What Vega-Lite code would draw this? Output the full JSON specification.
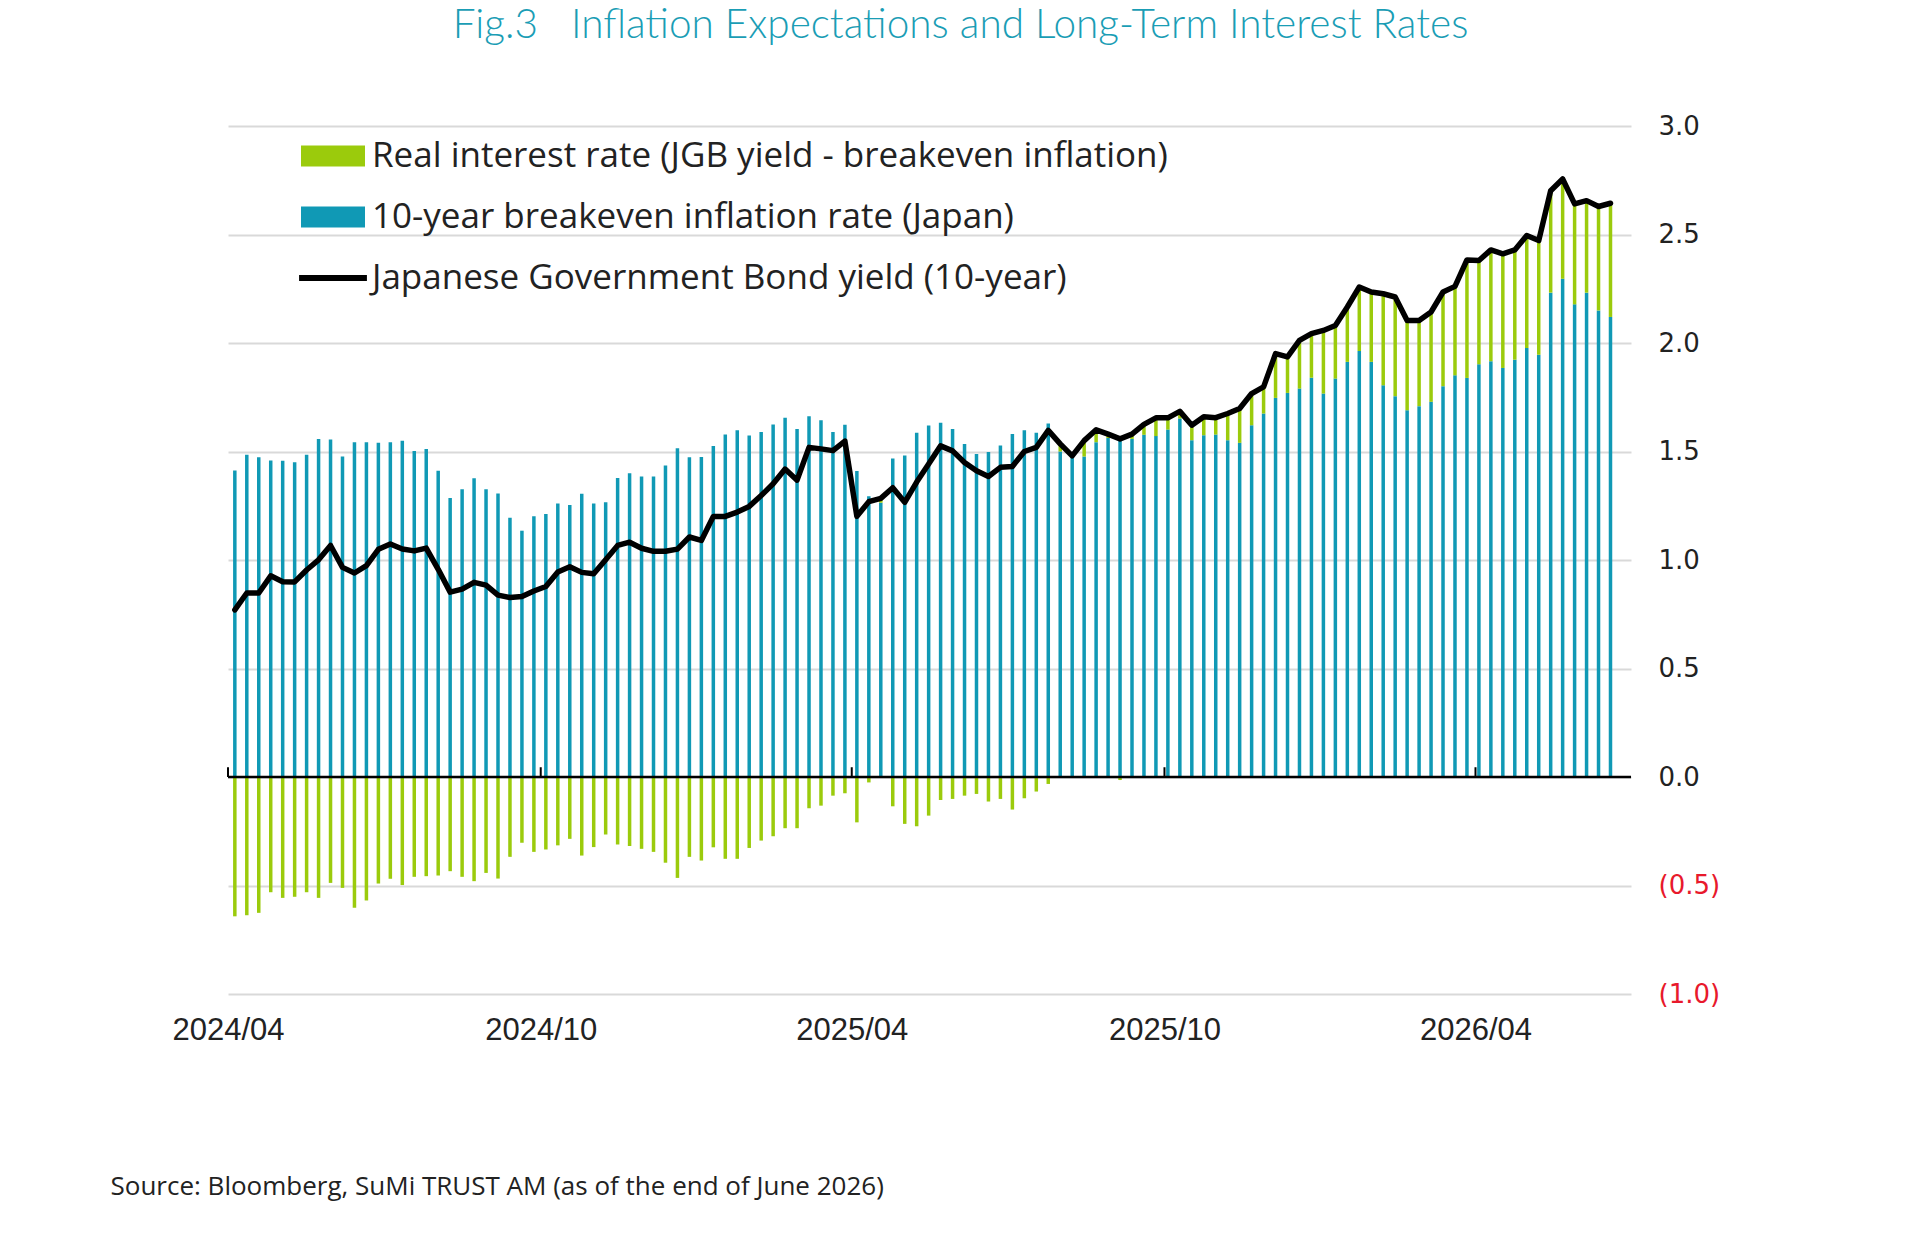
{
  "$schema": "https://vega.github.io/schema/vega-lite/v6.json",
  "width": 1403,
  "height": 868,
  "autosize": {"type": "none"},
  "padding": {"left": 228, "top": 126, "right": 289, "bottom": 249},
  "background": "white",
  "config": {"view": {"stroke": null}, "font": "Open Sans"},
  "title": {
    "text": "Fig.3\u00a0\u00a0\u00a0Inflation Expectations and Long-Term Interest Rates",
    "color": "#1a9db5",
    "font": "Lato",
    "fontSize": 40.5,
    "fontWeight": 300,
    "anchor": "middle",
    "frame": "group",
    "dx": 31,
    "baseline": "bottom",
    "offset": 26
  },
  "datasets": {
    "weekly": [
      {"date": "2024-04-05", "bei": 1.412, "real": -0.642, "jgb": 0.770},
      {"date": "2024-04-12", "bei": 1.485, "real": -0.637, "jgb": 0.848},
      {"date": "2024-04-19", "bei": 1.474, "real": -0.626, "jgb": 0.848},
      {"date": "2024-04-26", "bei": 1.458, "real": -0.531, "jgb": 0.927},
      {"date": "2024-05-03", "bei": 1.457, "real": -0.557, "jgb": 0.900},
      {"date": "2024-05-10", "bei": 1.451, "real": -0.552, "jgb": 0.899},
      {"date": "2024-05-17", "bei": 1.485, "real": -0.531, "jgb": 0.954},
      {"date": "2024-05-24", "bei": 1.558, "real": -0.557, "jgb": 1.001},
      {"date": "2024-05-31", "bei": 1.555, "real": -0.488, "jgb": 1.067},
      {"date": "2024-06-07", "bei": 1.477, "real": -0.511, "jgb": 0.966},
      {"date": "2024-06-14", "bei": 1.543, "real": -0.603, "jgb": 0.940},
      {"date": "2024-06-21", "bei": 1.543, "real": -0.569, "jgb": 0.974},
      {"date": "2024-06-28", "bei": 1.540, "real": -0.491, "jgb": 1.049},
      {"date": "2024-07-05", "bei": 1.543, "real": -0.469, "jgb": 1.074},
      {"date": "2024-07-12", "bei": 1.549, "real": -0.498, "jgb": 1.051},
      {"date": "2024-07-19", "bei": 1.502, "real": -0.460, "jgb": 1.042},
      {"date": "2024-07-26", "bei": 1.512, "real": -0.457, "jgb": 1.055},
      {"date": "2024-08-02", "bei": 1.411, "real": -0.454, "jgb": 0.957},
      {"date": "2024-08-09", "bei": 1.286, "real": -0.434, "jgb": 0.852},
      {"date": "2024-08-16", "bei": 1.326, "real": -0.460, "jgb": 0.866},
      {"date": "2024-08-23", "bei": 1.377, "real": -0.480, "jgb": 0.897},
      {"date": "2024-08-30", "bei": 1.326, "real": -0.442, "jgb": 0.884},
      {"date": "2024-09-06", "bei": 1.306, "real": -0.468, "jgb": 0.838},
      {"date": "2024-09-13", "bei": 1.195, "real": -0.368, "jgb": 0.827},
      {"date": "2024-09-20", "bei": 1.135, "real": -0.303, "jgb": 0.832},
      {"date": "2024-09-27", "bei": 1.202, "real": -0.345, "jgb": 0.857},
      {"date": "2024-10-04", "bei": 1.212, "real": -0.334, "jgb": 0.878},
      {"date": "2024-10-11", "bei": 1.260, "real": -0.315, "jgb": 0.945},
      {"date": "2024-10-18", "bei": 1.254, "real": -0.285, "jgb": 0.969},
      {"date": "2024-10-25", "bei": 1.305, "real": -0.362, "jgb": 0.943},
      {"date": "2024-11-01", "bei": 1.260, "real": -0.323, "jgb": 0.937},
      {"date": "2024-11-08", "bei": 1.266, "real": -0.265, "jgb": 1.001},
      {"date": "2024-11-15", "bei": 1.378, "real": -0.311, "jgb": 1.067},
      {"date": "2024-11-22", "bei": 1.400, "real": -0.318, "jgb": 1.082},
      {"date": "2024-11-29", "bei": 1.385, "real": -0.331, "jgb": 1.054},
      {"date": "2024-12-06", "bei": 1.385, "real": -0.345, "jgb": 1.040},
      {"date": "2024-12-13", "bei": 1.435, "real": -0.395, "jgb": 1.040},
      {"date": "2024-12-20", "bei": 1.515, "real": -0.465, "jgb": 1.050},
      {"date": "2024-12-27", "bei": 1.474, "real": -0.368, "jgb": 1.106},
      {"date": "2025-01-03", "bei": 1.475, "real": -0.385, "jgb": 1.090},
      {"date": "2025-01-10", "bei": 1.525, "real": -0.324, "jgb": 1.201},
      {"date": "2025-01-17", "bei": 1.578, "real": -0.377, "jgb": 1.201},
      {"date": "2025-01-24", "bei": 1.598, "real": -0.377, "jgb": 1.221},
      {"date": "2025-01-31", "bei": 1.574, "real": -0.327, "jgb": 1.247},
      {"date": "2025-02-07", "bei": 1.590, "real": -0.293, "jgb": 1.297},
      {"date": "2025-02-14", "bei": 1.624, "real": -0.273, "jgb": 1.351},
      {"date": "2025-02-21", "bei": 1.655, "real": -0.236, "jgb": 1.419},
      {"date": "2025-02-28", "bei": 1.604, "real": -0.236, "jgb": 1.368},
      {"date": "2025-03-07", "bei": 1.663, "real": -0.144, "jgb": 1.519},
      {"date": "2025-03-14", "bei": 1.644, "real": -0.132, "jgb": 1.512},
      {"date": "2025-03-21", "bei": 1.590, "real": -0.086, "jgb": 1.504},
      {"date": "2025-03-28", "bei": 1.623, "real": -0.075, "jgb": 1.548},
      {"date": "2025-04-04", "bei": 1.410, "real": -0.209, "jgb": 1.201},
      {"date": "2025-04-11", "bei": 1.294, "real": -0.025, "jgb": 1.269},
      {"date": "2025-04-18", "bei": 1.264, "real": 0.020, "jgb": 1.284},
      {"date": "2025-04-25", "bei": 1.468, "real": -0.135, "jgb": 1.333},
      {"date": "2025-05-02", "bei": 1.482, "real": -0.216, "jgb": 1.266},
      {"date": "2025-05-09", "bei": 1.586, "real": -0.227, "jgb": 1.359},
      {"date": "2025-05-16", "bei": 1.620, "real": -0.178, "jgb": 1.442},
      {"date": "2025-05-23", "bei": 1.632, "real": -0.106, "jgb": 1.526},
      {"date": "2025-05-30", "bei": 1.604, "real": -0.101, "jgb": 1.503},
      {"date": "2025-06-06", "bei": 1.535, "real": -0.086, "jgb": 1.449},
      {"date": "2025-06-13", "bei": 1.489, "real": -0.078, "jgb": 1.411},
      {"date": "2025-06-20", "bei": 1.498, "real": -0.113, "jgb": 1.385},
      {"date": "2025-06-27", "bei": 1.528, "real": -0.101, "jgb": 1.427},
      {"date": "2025-07-04", "bei": 1.581, "real": -0.150, "jgb": 1.431},
      {"date": "2025-07-11", "bei": 1.598, "real": -0.098, "jgb": 1.500},
      {"date": "2025-07-18", "bei": 1.586, "real": -0.067, "jgb": 1.519},
      {"date": "2025-07-25", "bei": 1.629, "real": -0.032, "jgb": 1.597},
      {"date": "2025-08-01", "bei": 1.500, "real": 0.035, "jgb": 1.535},
      {"date": "2025-08-08", "bei": 1.470, "real": 0.010, "jgb": 1.480},
      {"date": "2025-08-15", "bei": 1.477, "real": 0.073, "jgb": 1.550},
      {"date": "2025-08-22", "bei": 1.543, "real": 0.057, "jgb": 1.600},
      {"date": "2025-08-29", "bei": 1.562, "real": 0.018, "jgb": 1.580},
      {"date": "2025-09-05", "bei": 1.572, "real": -0.014, "jgb": 1.558},
      {"date": "2025-09-12", "bei": 1.558, "real": 0.022, "jgb": 1.580},
      {"date": "2025-09-19", "bei": 1.577, "real": 0.048, "jgb": 1.625},
      {"date": "2025-09-26", "bei": 1.571, "real": 0.084, "jgb": 1.655},
      {"date": "2025-10-03", "bei": 1.601, "real": 0.054, "jgb": 1.655},
      {"date": "2025-10-10", "bei": 1.652, "real": 0.033, "jgb": 1.685},
      {"date": "2025-10-17", "bei": 1.552, "real": 0.069, "jgb": 1.621},
      {"date": "2025-10-24", "bei": 1.575, "real": 0.085, "jgb": 1.660},
      {"date": "2025-10-31", "bei": 1.578, "real": 0.078, "jgb": 1.656},
      {"date": "2025-11-07", "bei": 1.552, "real": 0.123, "jgb": 1.675},
      {"date": "2025-11-14", "bei": 1.540, "real": 0.158, "jgb": 1.698},
      {"date": "2025-11-21", "bei": 1.621, "real": 0.146, "jgb": 1.767},
      {"date": "2025-11-28", "bei": 1.675, "real": 0.123, "jgb": 1.798},
      {"date": "2025-12-05", "bei": 1.747, "real": 0.204, "jgb": 1.951},
      {"date": "2025-12-12", "bei": 1.770, "real": 0.166, "jgb": 1.936},
      {"date": "2025-12-19", "bei": 1.790, "real": 0.222, "jgb": 2.012},
      {"date": "2025-12-26", "bei": 1.840, "real": 0.203, "jgb": 2.043},
      {"date": "2026-01-02", "bei": 1.767, "real": 0.291, "jgb": 2.058},
      {"date": "2026-01-09", "bei": 1.836, "real": 0.245, "jgb": 2.081},
      {"date": "2026-01-16", "bei": 1.913, "real": 0.253, "jgb": 2.166},
      {"date": "2026-01-23", "bei": 1.963, "real": 0.295, "jgb": 2.258},
      {"date": "2026-01-30", "bei": 1.913, "real": 0.322, "jgb": 2.235},
      {"date": "2026-02-06", "bei": 1.805, "real": 0.422, "jgb": 2.227},
      {"date": "2026-02-13", "bei": 1.755, "real": 0.457, "jgb": 2.212},
      {"date": "2026-02-20", "bei": 1.690, "real": 0.414, "jgb": 2.104},
      {"date": "2026-02-27", "bei": 1.709, "real": 0.395, "jgb": 2.104},
      {"date": "2026-03-06", "bei": 1.729, "real": 0.414, "jgb": 2.143},
      {"date": "2026-03-13", "bei": 1.801, "real": 0.434, "jgb": 2.235},
      {"date": "2026-03-20", "bei": 1.851, "real": 0.410, "jgb": 2.261},
      {"date": "2026-03-27", "bei": 1.839, "real": 0.544, "jgb": 2.383},
      {"date": "2026-04-03", "bei": 1.902, "real": 0.478, "jgb": 2.380},
      {"date": "2026-04-10", "bei": 1.916, "real": 0.513, "jgb": 2.429},
      {"date": "2026-04-17", "bei": 1.885, "real": 0.526, "jgb": 2.411},
      {"date": "2026-04-24", "bei": 1.923, "real": 0.506, "jgb": 2.429},
      {"date": "2026-05-01", "bei": 1.977, "real": 0.518, "jgb": 2.495},
      {"date": "2026-05-08", "bei": 1.946, "real": 0.526, "jgb": 2.472},
      {"date": "2026-05-15", "bei": 2.232, "real": 0.470, "jgb": 2.702},
      {"date": "2026-05-22", "bei": 2.296, "real": 0.460, "jgb": 2.756},
      {"date": "2026-05-29", "bei": 2.178, "real": 0.463, "jgb": 2.641},
      {"date": "2026-06-05", "bei": 2.232, "real": 0.424, "jgb": 2.656},
      {"date": "2026-06-12", "bei": 2.150, "real": 0.479, "jgb": 2.629},
      {"date": "2026-06-19", "bei": 2.120, "real": 0.524, "jgb": 2.644}
    ],
    "halfYears": [
      {"date": "2024-04-01"},
      {"date": "2024-10-01"},
      {"date": "2025-04-01"},
      {"date": "2025-10-01"},
      {"date": "2026-04-01"}
    ]
  },
  "layer": [
    {
      "data": {"name": "weekly"},
      "transform": [{"fold": ["bei", "real"], "as": ["series", "value"]}],
      "mark": {"type": "bar", "width": 3.5},
      "encoding": {
        "x": {
          "field": "date",
          "type": "temporal",
          "scale": {
            "type": "utc",
            "padding": 0,
            "nice": false,
            "domain": [
              {"year": 2024, "month": 4, "date": 1, "utc": true},
              {"year": 2026, "month": 7, "date": 1, "utc": true}
            ]
          },
          "axis": {
            "values": [
              {"year": 2024, "month": 4, "date": 1, "utc": true},
              {"year": 2024, "month": 10, "date": 1, "utc": true},
              {"year": 2025, "month": 4, "date": 1, "utc": true},
              {"year": 2025, "month": 10, "date": 1, "utc": true},
              {"year": 2026, "month": 4, "date": 1, "utc": true}
            ],
            "format": "%Y/%m",
            "labelFont": "Liberation Sans",
            "labelFontSize": 31,
            "labelColor": "#222222",
            "labelPadding": 21,
            "labelAngle": 0,
            "labelFlush": false,
            "labelOverlap": false,
            "ticks": false,
            "domain": false,
            "grid": false,
            "title": "Source: Bloomberg, SuMi TRUST AM (as of the end of June 2026)",
            "titleFont": "Open Sans",
            "titleFontSize": 26,
            "titleFontWeight": "normal",
            "titleColor": "#222222",
            "titleAnchor": "start",
            "titleAlign": "left",
            "titleBaseline": "middle",
            "titleX": -118,
            "titleY": 192
          }
        },
        "y": {
          "field": "value",
          "type": "quantitative",
          "stack": "zero",
          "scale": {"domain": [-1, 3], "nice": false, "zero": false},
          "axis": {
            "orient": "right",
            "values": [-1, -0.5, 0, 0.5, 1, 1.5, 2, 2.5, 3],
            "labelExpr": "datum.value < 0 ? '(' + format(-datum.value, '.1f') + ')' : format(datum.value, '.1f')",
            "labelColor": {"condition": {"test": "datum.value < 0", "value": "#e8192c"}, "value": "#222222"},
            "labelFont": "DejaVu Sans",
            "labelFontSize": 26,
            "labelPadding": 27,
            "labelAlign": "left",
            "labelBaseline": "middle",
            "ticks": false,
            "domain": false,
            "grid": true,
            "gridColor": "#d9d9d9",
            "gridWidth": 2,
            "title": null
          }
        },
        "color": {
          "field": "series",
          "type": "nominal",
          "scale": {"domain": ["real", "bei", "jgb"], "range": ["#9bcb0c", "#1099b5", "#000000"]},
          "legend": {
            "orient": "none",
            "legendX": 73,
            "legendY": -2,
            "title": null,
            "padding": 0,
            "symbolType": "square",
            "symbolSize": 4096,
            "symbolStrokeWidth": 0,
            "labelFont": "Open Sans",
            "labelFontSize": 35,
            "labelColor": "#222222",
            "labelOffset": 7,
            "labelLimit": 1200,
            "rowPadding": 11,
            "labelExpr": "datum.value === 'real' ? 'Real interest rate (JGB yield - breakeven inflation)' : datum.value === 'bei' ? '10-year breakeven inflation rate (Japan)' : 'Japanese Government Bond yield (10-year)'",
            "encode": {
              "symbols": {
                "update": {
                  "shape": {"signal": "datum.value === 'jgb' ? 'M-1.06,-0.09H1.06V0.09H-1.06Z' : 'M-1,-0.33H1V0.33H-1Z'"},
                  "fill": {"scale": "color", "field": "value"},
                  "stroke": {"value": "transparent"},
                  "strokeWidth": {"value": 0}
                }
              }
            }
          }
        },
        "order": {"field": "series", "sort": "ascending"}
      }
    },
    {
      "data": {"values": [{}]},
      "mark": {"type": "rule", "color": "#000000", "strokeWidth": 2.5},
      "encoding": {"y": {"datum": 0}}
    },
    {
      "data": {"name": "halfYears"},
      "mark": {"type": "rule", "color": "#000000", "strokeWidth": 2},
      "encoding": {
        "x": {"field": "date", "type": "temporal"},
        "y": {"datum": 0},
        "y2": {"datum": 0.045}
      }
    },
    {
      "data": {"name": "weekly"},
      "mark": {"type": "line", "color": "#000000", "strokeWidth": 5.5, "strokeJoin": "round", "strokeCap": "round"},
      "encoding": {
        "x": {"field": "date", "type": "temporal"},
        "y": {"field": "jgb", "type": "quantitative"},
        "color": {"datum": "jgb"}
      }
    }
  ]
}
